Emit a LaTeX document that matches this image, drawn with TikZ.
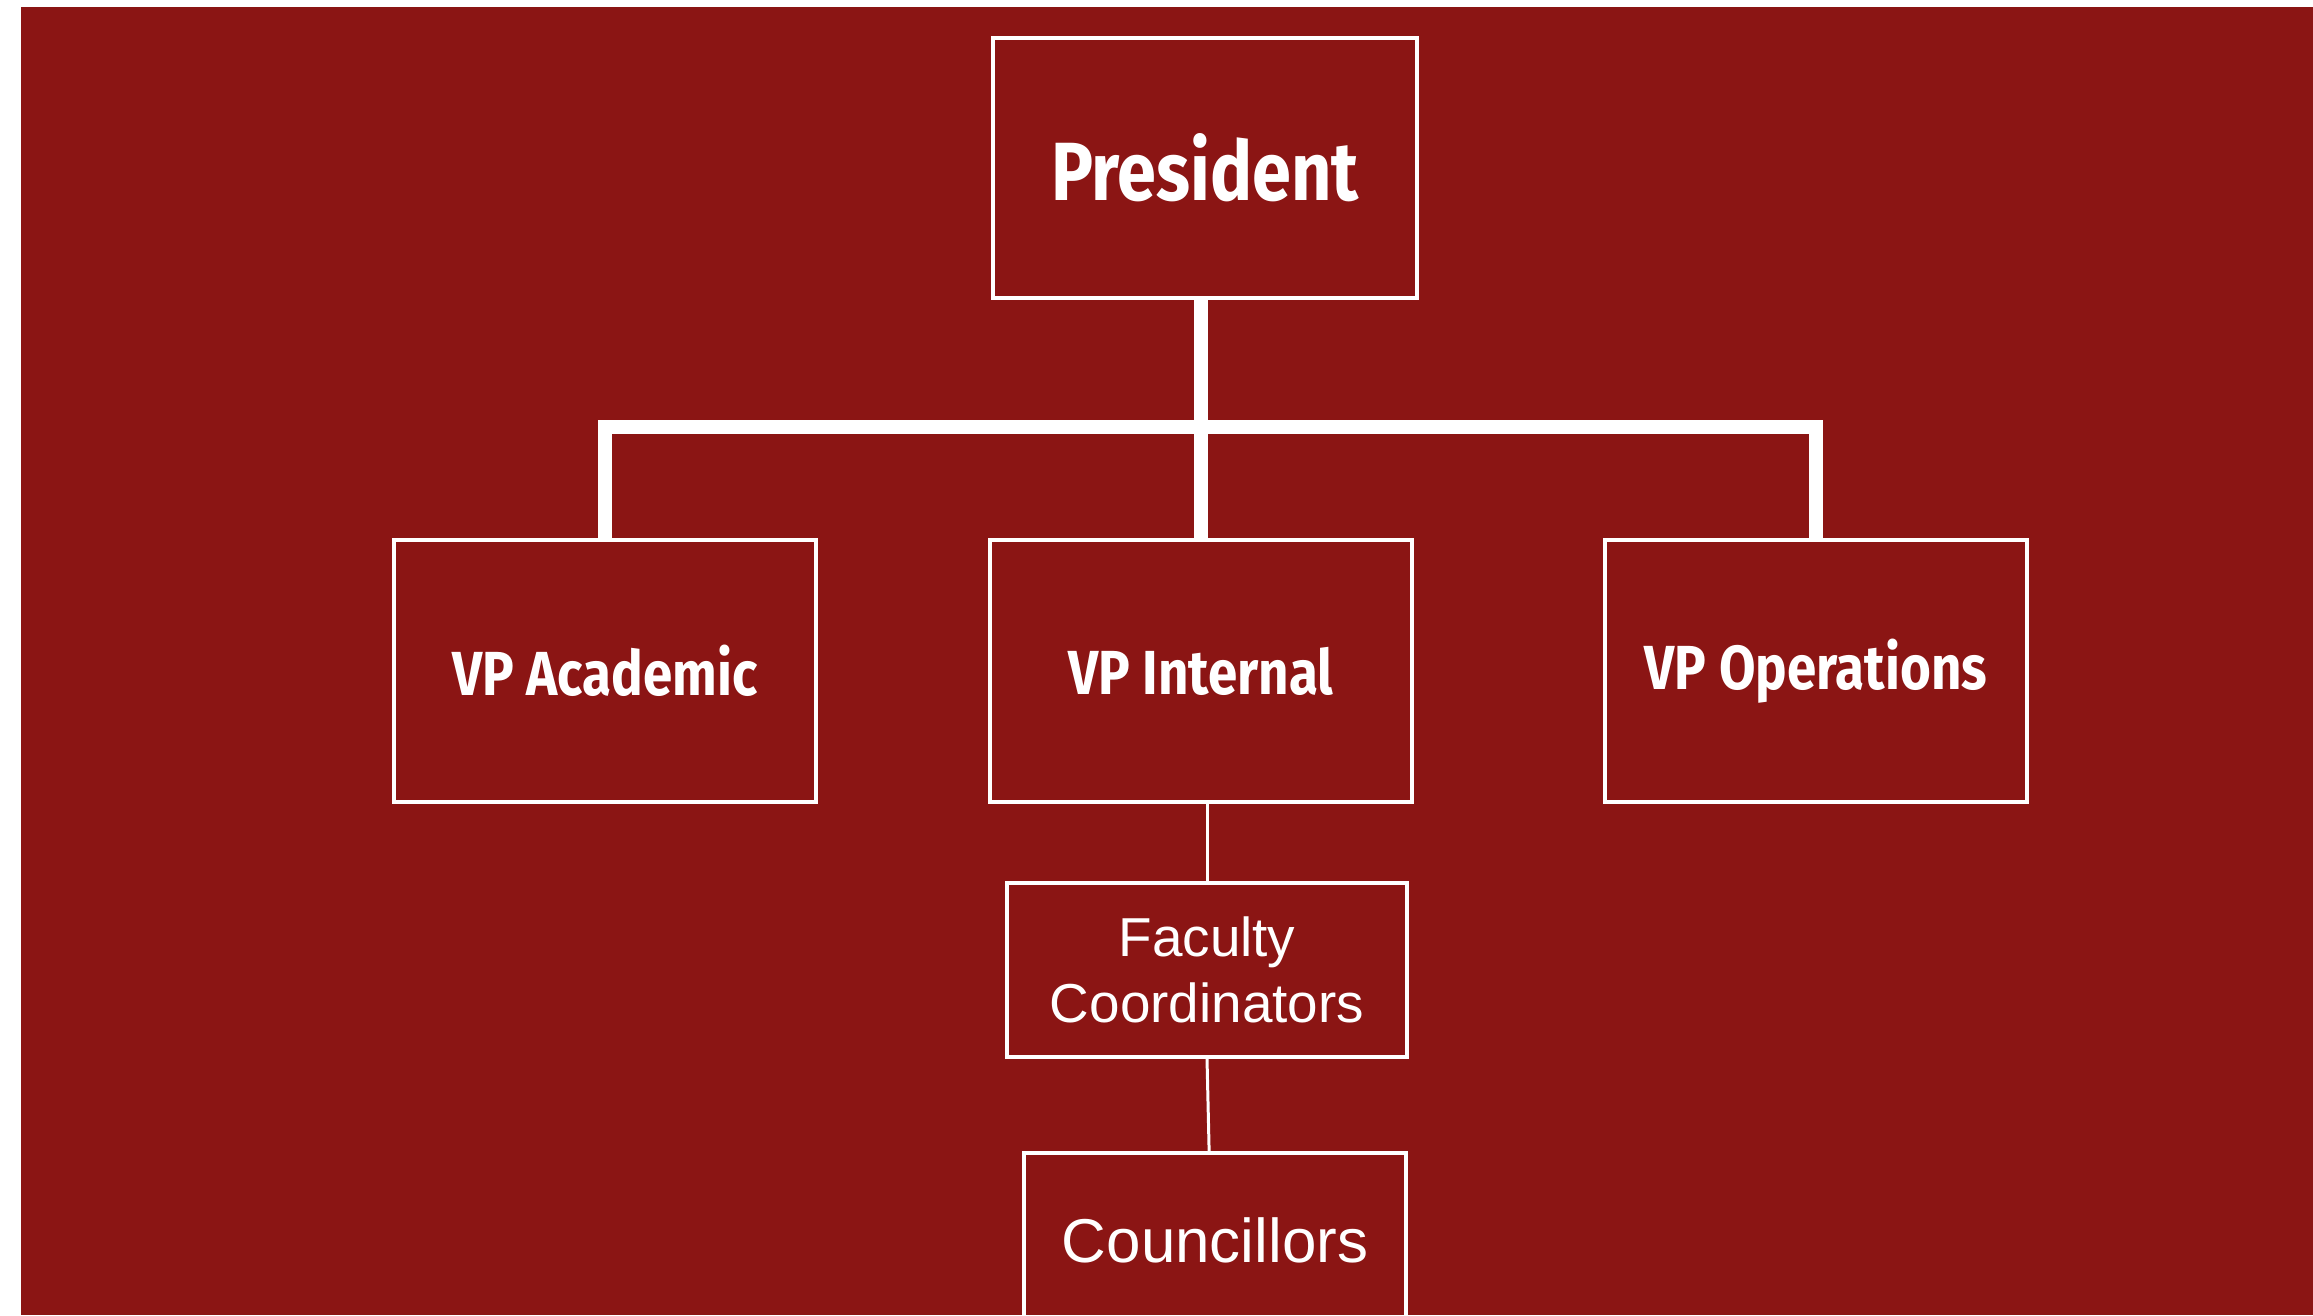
\documentclass[tikz,border=0pt]{standalone}
\usepackage{fontspec}
\setmainfont{Liberation Sans}
\newfontfamily\headfont[FakeStretch=0.85]{Fira Sans}
\usetikzlibrary{positioning}
\definecolor{bgred}{RGB}{139,21,20}

\tikzset{
	post/.style={draw=white, line width=1.15pt, text=white, align=center, inner sep=0pt},
	bigpost/.style={post, font=\headfont\bfseries\fontsize{23.5}{28}\selectfont},
	vppost/.style={post, font=\headfont\bfseries\fontsize{17.7}{21}\selectfont},
	trunk/.style={white, line width=3.8pt},
	twig/.style={white, line width=0.85pt}
}

\begin{document}
\begin{tikzpicture}[x=0.01cm, y=-0.01cm]
	\useasboundingbox (0,0) rectangle (2313,1315);
	% Sfondo
	\fill[bgred] (21,7) rectangle (2313,1315);

	% Caselle
	\node[bigpost, minimum width=4.24cm, minimum height=2.6cm] (pres) at (1205,168) {President};
	\node[vppost, minimum width=4.21cm, minimum height=2.62cm] (acad) at (605,671) {VP Academic};
	\node[vppost, minimum width=4.22cm, minimum height=2.62cm] (intl) at (1201,671) {VP Internal};
	\node[vppost, minimum width=4.22cm, minimum height=2.62cm] (oper) at (1816,671) {VP Operations};
	\node[post, minimum width=4cm, minimum height=1.73cm, font=\fontsize{15.6}{18.8}\selectfont] (facc) at (1207,970) {Faculty\\Coordinators};
	\node[post, minimum width=3.82cm, minimum height=1.74cm, font=\fontsize{17.6}{21}\selectfont] (coun) at (1215,1240) {Councillors};

	% Linee spesse
	\coordinate (bar) at (1201,427);
	\draw[trunk] (intl.north) -- (intl.north |- pres.south);
	\draw[trunk] (acad.north) |- (bar) -| (oper.north);

	% Linee sottili
	\draw[twig] (facc.north |- intl.south) -- (facc.north);
	\draw[twig] (facc.south) -- ([xshift=0.6pt]facc.south |- coun.north);
\end{tikzpicture}
\end{document}
